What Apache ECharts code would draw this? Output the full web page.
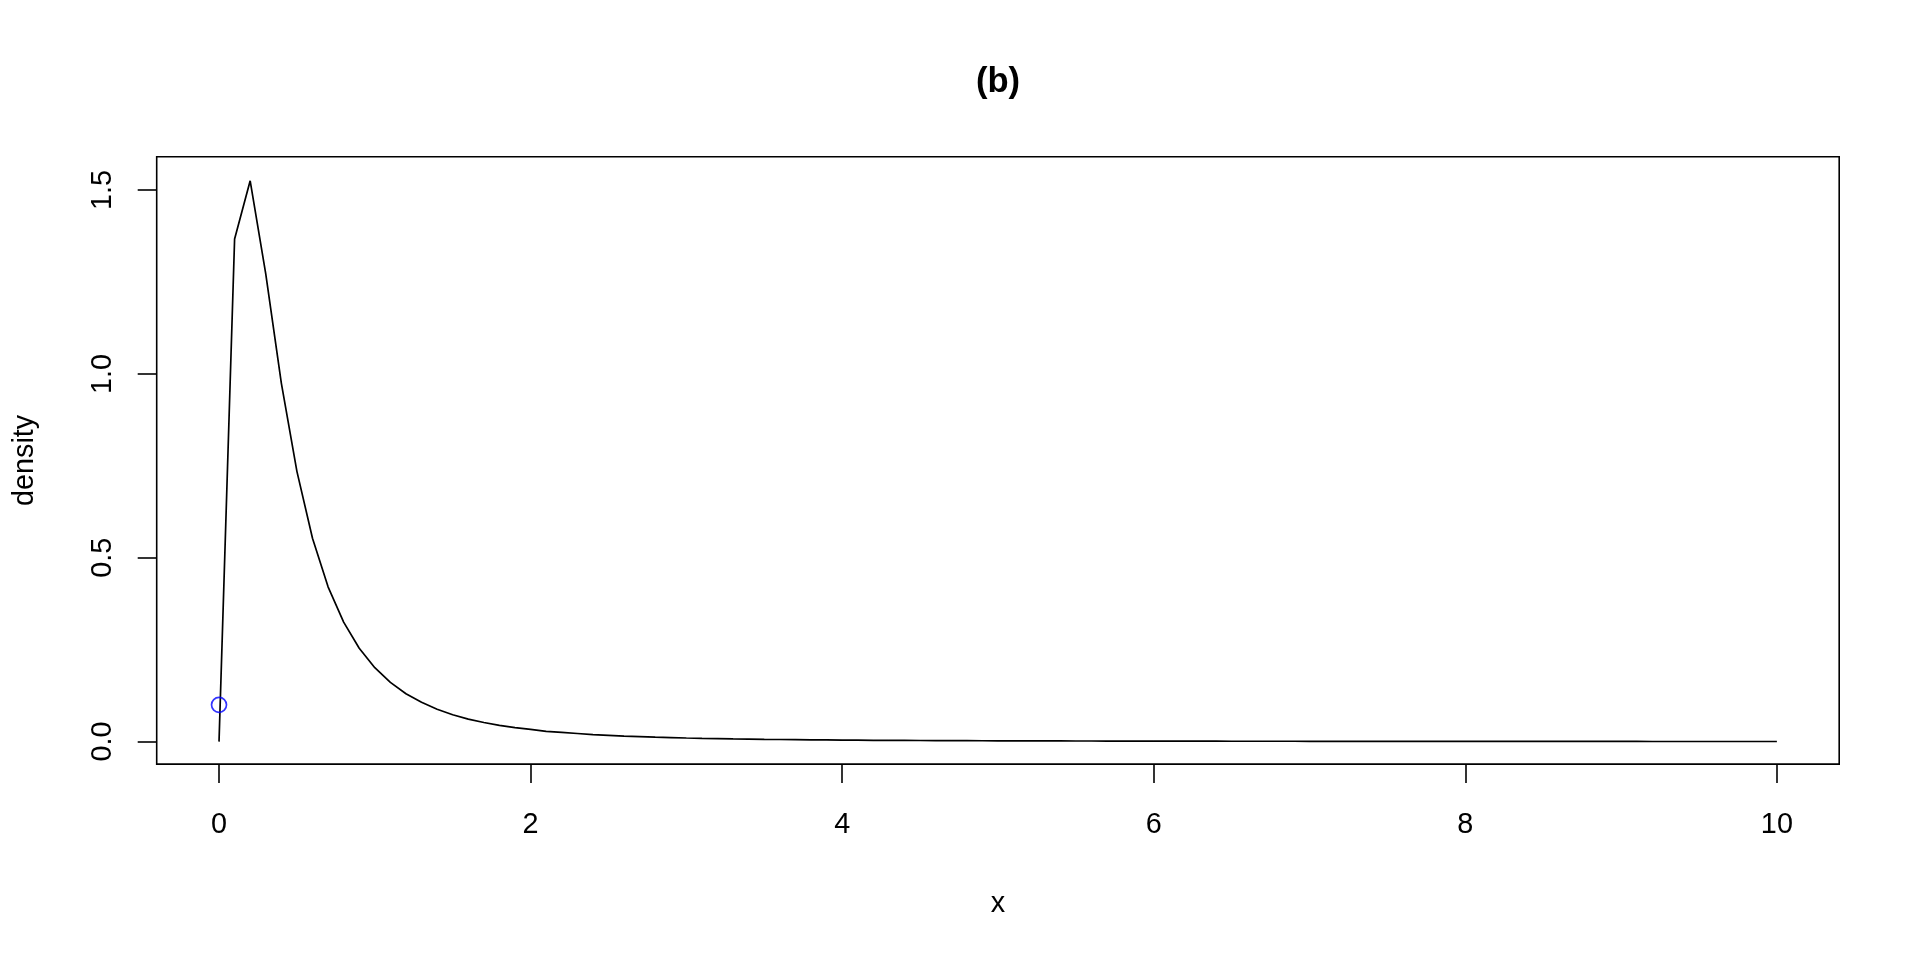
<!DOCTYPE html>
<html>
<head>
<meta charset="utf-8">
<script src="https://cdn.jsdelivr.net/npm/echarts@6/dist/echarts.min.js"></script>
<style>
html,body{margin:0;padding:0;background:#fff;}
#chart{width:1920px;height:960px;}
</style>
</head>
<body>
<div id="chart"></div>
<script>
// x grid of the density curve
var xs = [0,0.1,0.2,0.3,0.4,0.5,0.6,0.7,0.8,0.9,
  1,1.1,1.2,1.3,1.4,1.5,1.6,1.7,1.8,1.9,
  2,2.1,2.2,2.3,2.4,2.5,2.6,2.7,2.8,2.9,
  3,3.1,3.2,3.3,3.4,3.5,3.6,3.7,3.8,3.9,
  4,4.1,4.2,4.3,4.4,4.5,4.6,4.7,4.8,4.9,
  5,5.1,5.2,5.3,5.4,5.5,5.6,5.7,5.8,5.9,
  6,6.1,6.2,6.3,6.4,6.5,6.6,6.7,6.8,6.9,
  7,7.1,7.2,7.3,7.4,7.5,7.6,7.7,7.8,7.9,
  8,8.1,8.2,8.3,8.4,8.5,8.6,8.7,8.8,8.9,
  9,9.1,9.2,9.3,9.4,9.5,9.6,9.7,9.8,9.9,10];
// density values
var density = [0,1.367,1.525,1.272,0.975,0.735,0.553,0.421,0.325,0.254,
  0.201,0.161,0.130,0.107,0.088,0.073,0.061,0.052,0.044,0.038,
  0.033,0.028,0.025,0.022,0.019,0.017,0.015,0.0135,0.012,0.011,
  0.0098,0.0089,0.0081,0.0074,0.0068,0.0062,0.0057,0.0053,0.0049,0.0045,
  0.0042,0.0039,0.0036,0.0034,0.0032,0.0030,0.0028,0.0026,0.0025,0.0023,
  0.0022,0.0021,0.0020,0.0019,0.0018,0.0017,0.0016,0.0015,0.0015,0.0014,
  0.0013,0.0012,0.0012,0.0011,0.0011,0.0010,0.0010,0.0009,0.0009,0.0009,
  0.0008,0.0008,0.0008,0.0007,0.0007,0.0007,0.0006,0.0006,0.0006,0.0006,
  0.0005,0.0005,0.0005,0.0005,0.0005,0.0004,0.0004,0.0004,0.0004,0.0004,
  0.0004,0.0004,0.0003,0.0003,0.0003,0.0003,0.0003,0.0003,0.0003,0.0003,0.0003];
// highlighted point (blue circle)
var markX = [0];
var markY = [0.1];
// tick labels
var xTicks = [0,2,4,6,8,10];
var yTicks = [0,0.5,1,1.5];
var titleText = '(b)';
var xName = 'x';
var yName = 'density';

var curve = xs.map(function(x,i){return [x, density[i]];});
var marks = markX.map(function(x,i){return [x, markY[i]];});

var FONT = 'Liberation Sans';
var chart = echarts.init(document.getElementById('chart'), null, {renderer:'canvas'});
chart.setOption({
  animation:false,
  backgroundColor:'#ffffff',
  title:{
    text:titleText, left:998, top:65, padding:0, textAlign:'center',
    textStyle:{fontFamily:FONT, fontSize:34.6, fontWeight:'bold', color:'#000'}
  },
  grid:{left:156.7, right:80.8, top:156.7, bottom:195.9, show:true,
    borderColor:'#000', borderWidth:1.6, backgroundColor:'transparent'},
  xAxis:{
    type:'value', min:-0.4, max:10.4,
    name:xName, nameLocation:'middle', nameGap:125,
    nameTextStyle:{fontFamily:FONT, fontSize:28.8, color:'#000'},
    axisLine:{show:false, onZero:false},
    splitLine:{show:false},
    axisTick:{show:true, inside:false, length:19, customValues:xTicks,
      lineStyle:{color:'#000', width:1.6}},
    axisLabel:{show:true, margin:46, customValues:xTicks,
      fontFamily:FONT, fontSize:28.8, color:'#000',
      formatter:function(v){return String(v);}}
  },
  yAxis:{
    type:'value', min:-0.06118, max:1.5906,
    name:yName, nameLocation:'middle', nameGap:117, nameRotate:90,
    nameTextStyle:{fontFamily:FONT, fontSize:28.8, color:'#000'},
    axisLine:{show:false, onZero:false},
    splitLine:{show:false},
    axisTick:{show:true, inside:false, length:19, customValues:yTicks,
      lineStyle:{color:'#000', width:1.6}},
    axisLabel:{show:true, margin:39, rotate:90, customValues:yTicks,
      fontFamily:FONT, fontSize:28.8, color:'#000',
      formatter:function(v){return v.toFixed(1);}}
  },
  series:[
    {type:'line', data:curve, showSymbol:false, symbol:'none', smooth:false,
      lineStyle:{color:'#000', width:1.7}, z:2, silent:true},
    {type:'scatter', data:marks, symbol:'circle', symbolSize:15,
      itemStyle:{color:'rgba(0,0,0,0)', borderColor:'#0000FF', borderWidth:1.7}, z:3, silent:true}
  ]
});
</script>
</body>
</html>
